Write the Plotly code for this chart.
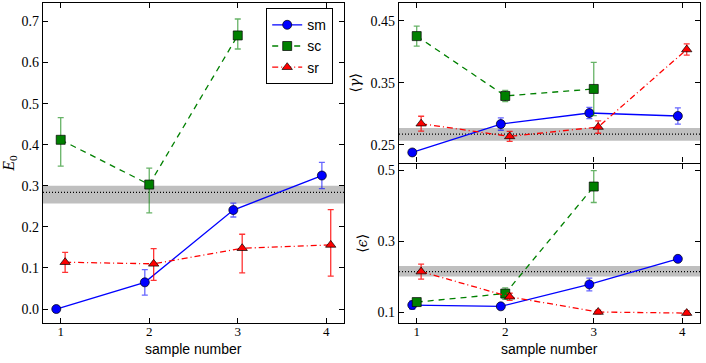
import plotly.graph_objects as go

samples = [1, 2, 3, 4]

# left panel: E_0
e0_sm = [0.0, 0.065, 0.241, 0.325]
e0_sm_err = [0.0, 0.031, 0.017, 0.032]
e0_sc = [0.412, 0.303, 0.666]
e0_sc_err = [0.054, 0.040, 0.040]
e0_sc_errm = [0.064, 0.069, 0.033]
e0_sr = [0.114, 0.110, 0.148, 0.156]
e0_sr_err = [0.024, 0.037, 0.034, 0.086]
e0_sr_errm = [0.025, 0.040, 0.060, 0.076]
e0_band = [0.257, 0.300]
e0_ref = 0.284

# right top: <gamma>
g_sm = [0.2376, 0.2834, 0.3012, 0.2964]
g_sm_err = [0.004, 0.010, 0.009, 0.013]
g_sc = [0.4252, 0.3287, 0.340]
g_sc_err = [0.016, 0.009, 0.043]
g_sr = [0.284, 0.2635, 0.2786, 0.4036]
g_sr_err = [0.012, 0.008, 0.010, 0.009]
g_band = [0.2565, 0.277]
g_ref = 0.2672

# right bottom: <epsilon>
e_sm = [0.1197, 0.116, 0.1778, 0.250]
e_sm_err = [0.012, 0.004, 0.018, 0.008]
e_sc = [0.128, 0.152, 0.454]
e_sc_err = [0.006, 0.016, 0.045]
e_sr = [0.214, 0.143, 0.100, 0.097]
e_sr_err = [0.021, 0.010, 0.005, 0.006]
e_band = [0.200, 0.230]
e_ref = 0.214

offsets = {'sm': -0.05, 'sc': 0.0, 'sr': 0.05}
styles = {
    'sm': dict(color='#0000ff', ecolor='rgba(0,0,255,0.6)', dash='solid', symbol='circle', size=9),
    'sc': dict(color='#008000', ecolor='rgba(0,128,0,0.6)', dash='6px,5px', symbol='square', size=9),
    'sr': dict(color='#ff0000', ecolor='rgba(255,0,0,0.8)', dash='6px,3px,1px,3px', symbol='triangle-up', size=9),
}

fig = go.Figure()


def add(name, y, err, errm, xa, ya, legend):
    st = styles[name]
    x = [s + offsets[name] for s in samples[:len(y)]]
    fig.add_trace(go.Scatter(
        x=x, y=y, name=name, mode='lines+markers',
        xaxis=xa, yaxis=ya, showlegend=legend,
        line=dict(color=st['color'], width=1.3, dash=st['dash']),
        marker=dict(symbol=st['symbol'], size=st['size'], color=st['color'],
                    line=dict(color='black', width=0.7)),
        error_y=dict(type='data', array=err, arrayminus=errm if errm else err,
                     color=st['ecolor'], thickness=1.3, width=3),
    ))


add('sm', e0_sm, e0_sm_err, None, 'x', 'y', True)
add('sc', e0_sc, e0_sc_err, e0_sc_errm, 'x', 'y', True)
add('sr', e0_sr, e0_sr_err, e0_sr_errm, 'x', 'y', True)
add('sm', g_sm, g_sm_err, None, 'x2', 'y2', False)
add('sc', g_sc, g_sc_err, None, 'x2', 'y2', False)
add('sr', g_sr, g_sr_err, None, 'x2', 'y2', False)
add('sm', e_sm, e_sm_err, None, 'x3', 'y3', False)
add('sc', e_sc, e_sc_err, None, 'x3', 'y3', False)
add('sr', e_sr, e_sr_err, None, 'x3', 'y3', False)

for xa, ya, band, ref in [('x', 'y', e0_band, e0_ref), ('x2', 'y2', g_band, g_ref), ('x3', 'y3', e_band, e_ref)]:
    fig.add_shape(type='rect', xref=xa + ' domain', yref=ya, x0=0, x1=1, y0=band[0], y1=band[1],
                  fillcolor='rgba(0,0,0,0.25)', line=dict(width=0), layer='below')
    fig.add_shape(type='line', xref=xa + ' domain', yref=ya, x0=0, x1=1, y0=ref, y1=ref,
                  line=dict(color='black', width=1.3, dash='1px,2px'), layer='below')

# x axis titles placed just under the tick labels
for xa in ['x', 'x3']:
    fig.add_annotation(text='sample number', xref=xa + ' domain', yref='paper', x=0.5, y=1 - 349 / 363,
                       showarrow=False, yanchor='middle',
                       font=dict(family='Liberation Sans', size=14, color='black'))

serif = dict(family='Liberation Serif', size=14, color='black')

common = dict(showline=True, linecolor='black', linewidth=1.2, mirror='ticks', ticks='inside',
              ticklen=5, tickcolor='black', showgrid=False, zeroline=False, tickfont=serif)
xcommon = dict(common, tickfont=dict(family='Liberation Serif', size=13, color='black'))

fig.update_layout(
    width=706, height=363,
    margin=dict(l=0, r=0, t=0, b=0),
    paper_bgcolor='white', plot_bgcolor='white',
    xaxis=dict(domain=[43 / 706, 344 / 706], range=[0.8, 4.2], tickvals=samples, anchor='y',
               ticklabelstandoff=-4, **xcommon),
    yaxis=dict(domain=[1 - 323 / 363, 1 - 3 / 363], range=[-0.034, 0.745],
               tickvals=[0, 0.1, 0.2, 0.3, 0.4, 0.5, 0.6, 0.7], tickformat='.1f', anchor='x',
               title=dict(text='<i>E</i><sub>0</sub>',
                          font=dict(family='Liberation Serif', size=16, color='black'), standoff=6),
               **common),
    xaxis2=dict(domain=[399 / 706, 700 / 706], range=[0.8, 4.2], tickvals=samples, showticklabels=False,
                anchor='y2', **common),
    yaxis2=dict(domain=[1 - 162.5 / 363, 1 - 3 / 363], range=[0.2214, 0.4786], tickvals=[0.25, 0.35, 0.45],
                anchor='x2',
                title=dict(text='⟨<i>γ</i>⟩', font=dict(family='DejaVu Serif', size=14, color='black'), standoff=6),
                **common),
    xaxis3=dict(domain=[399 / 706, 700 / 706], range=[0.8, 4.2], tickvals=samples, anchor='y3',
                ticklabelstandoff=-4, **xcommon),
    yaxis3=dict(domain=[1 - 323 / 363, 1 - 163.5 / 363], range=[0.069, 0.519], tickvals=[0.1, 0.3, 0.5],
                anchor='x3',
                title=dict(text='⟨<i>ϵ</i>⟩', font=dict(family='DejaVu Serif', size=14, color='black'), standoff=6),
                **common),
    legend=dict(x=266 / 706, y=1 - 8 / 363, xanchor='left', yanchor='top',
                bordercolor='black', borderwidth=1.2, bgcolor='white',
                font=dict(family='Liberation Sans', size=14, color='black'),
                itemwidth=30, tracegroupgap=0),
)

fig.write_html("out.html", config={'displayModeBar': False},
               post_script="document.body.style.margin='0';")
